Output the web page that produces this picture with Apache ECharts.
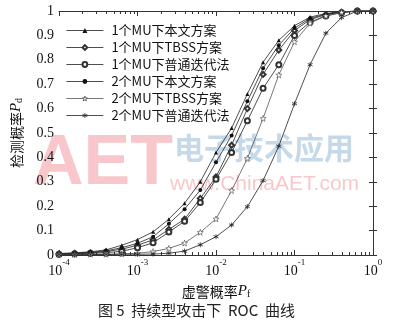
<!DOCTYPE html>
<html><head><meta charset="utf-8">
<script src="https://cdn.jsdelivr.net/npm/echarts@6/dist/echarts.min.js"></script>
<style>html,body{margin:0;padding:0;background:#fff}#c{width:393px;height:326px}</style>
</head><body><div id="c"></div>
<script>
// False-alarm probability grid (Pf)
const pf = [0.0001, 0.000158, 0.000251, 0.000398, 0.000631, 0.001, 0.00158, 0.00251, 0.00398, 0.00631,
            0.01, 0.0158, 0.0251, 0.0398, 0.0631, 0.1, 0.158, 0.251, 0.398, 0.631, 1];
// Detection probability (Pd) per series
const mu1Proposed = [0.006, 0.009, 0.013, 0.021, 0.040, 0.063, 0.095, 0.147, 0.212, 0.300, 0.420, 0.520, 0.660, 0.790, 0.880, 0.940, 0.975, 0.990, 0.997, 1, 1];
const mu1TBSS     = [0.004, 0.006, 0.009, 0.014, 0.024, 0.040, 0.062, 0.105, 0.147, 0.232, 0.320, 0.450, 0.600, 0.740, 0.840, 0.920, 0.965, 0.985, 0.995, 1, 1];
const mu1Iter     = [0.003, 0.005, 0.007, 0.010, 0.015, 0.030, 0.050, 0.094, 0.138, 0.215, 0.310, 0.420, 0.550, 0.683, 0.780, 0.900, 0.955, 0.980, 0.993, 1, 1];
const mu2Proposed = [0.005, 0.007, 0.011, 0.017, 0.030, 0.048, 0.075, 0.128, 0.188, 0.266, 0.380, 0.490, 0.630, 0.765, 0.860, 0.930, 0.970, 0.987, 0.996, 1, 1];
const mu2TBSS     = [0.002, 0.002, 0.003, 0.003, 0.005, 0.007, 0.014, 0.027, 0.049, 0.093, 0.148, 0.264, 0.396, 0.560, 0.738, 0.874, 0.950, 0.980, 0.995, 1, 1];
const mu2Iter     = [0.001, 0.001, 0.002, 0.002, 0.003, 0.003, 0.004, 0.007, 0.016, 0.042, 0.075, 0.123, 0.198, 0.305, 0.446, 0.620, 0.780, 0.909, 0.973, 1, 1];

const seriesNames = ['1个MU下本文方案', '1个MU下TBSS方案', '1个MU下普通迭代法', '2个MU下本文方案', '2个MU下TBSS方案', '2个MU下普通迭代法'];
const xTickExponents = [-4, -3, -2, -1, 0];
const minorMantissas = [2, 3, 4, 5, 6, 7, 8, 9];
const yTickStep = 0.1;

const serif = "'Liberation Serif', 'Noto Sans CJK SC', serif";
const cjk = "'Noto Sans CJK SC', 'Liberation Serif', sans-serif";

const minorVals = [];
for (let d = xTickExponents[0]; d < xTickExponents[xTickExponents.length - 1]; d++) {
  minorMantissas.forEach(m => minorVals.push(Math.log10(m) + d));
}

function pts(arr) { return pf.map((x, i) => [x, arr[i]]); }

const starPath = 'path://M0,-10L2.35,-3.24L9.51,-3.09L3.8,1.24L5.88,8.09L0,4L-5.88,8.09L-3.8,1.24L-9.51,-3.09L-2.35,-3.24Z';
const astPath = 'path://M0,-5L0,5M-4.33,-2.5L4.33,2.5M-4.33,2.5L4.33,-2.5';

const styles = [
  { symbol: 'triangle', symbolSize: 4, itemStyle: { color: '#111' }, lineColor: '#222' },
  { symbol: 'emptyDiamond', symbolSize: 5, itemStyle: { color: '#333', borderWidth: 0.6 }, lineColor: '#222' },
  { symbol: 'emptyCircle', symbolSize: 5, itemStyle: { color: '#333', borderWidth: 0.6 }, lineColor: '#222' },
  { symbol: 'circle', symbolSize: 4, itemStyle: { color: '#111' }, lineColor: '#222' },
  { symbol: starPath, symbolSize: 6, itemStyle: { color: '#fff', borderColor: '#444', borderWidth: 0.6 }, lineColor: '#555' },
  { symbol: astPath, symbolSize: 5, itemStyle: { color: '#222', borderColor: '#222', borderWidth: 0.8 }, lineColor: '#222' }
];
const datasets = [mu1Proposed, mu1TBSS, mu1Iter, mu2Proposed, mu2TBSS, mu2Iter];

const series = datasets.map((d, i) => ({
  name: seriesNames[i],
  type: 'line',
  xAxisIndex: 0, yAxisIndex: 0,
  data: pts(d),
  symbol: styles[i].symbol,
  symbolSize: styles[i].symbolSize,
  itemStyle: styles[i].itemStyle,
  lineStyle: { color: styles[i].lineColor, width: 0.8 },
  emphasis: { disabled: true },
  z: 3
}));

const labelRich = {
  b: { fontFamily: serif, fontSize: 14, color: '#111', lineHeight: 20, verticalAlign: 'bottom' },
  s: { fontFamily: serif, fontSize: 9, color: '#111', lineHeight: 11, verticalAlign: 'top' }
};

const chart = echarts.init(document.getElementById('c'), null, { renderer: 'canvas' });
chart.setOption({
  animation: false,
  backgroundColor: '#fff',
  grid: { left: 57, right: 20, top: 11, bottom: 71 },
  legend: {
    orient: 'vertical', left: 61, top: 19,
    itemWidth: 37, itemHeight: 6, itemGap: 4,
    data: seriesNames,
    itemStyle: { borderWidth: 0.8 },
    lineStyle: { width: 0.8 },
    textStyle: { fontFamily: cjk, fontSize: 13, color: '#111', padding: [0, 0, 0, 3] },
    selectedMode: false
  },
  xAxis: [
    {
      type: 'log', logBase: 10, min: 0.0001, max: 1, position: 'bottom', gridIndex: 0,
      axisLine: { show: true, lineStyle: { color: '#333', width: 1 } },
      axisTick: { show: true, inside: true, length: 5, lineStyle: { color: '#333' } },
      splitLine: { show: false },
      axisLabel: {
        margin: 3,
        formatter: v => '{b|10}{s|' + Math.round(Math.log10(v)) + '}',
        rich: labelRich
      },
      name: '虚警概率{i|P}{sub|f}', nameLocation: 'middle', nameGap: 27,
      nameTextStyle: {
        fontFamily: cjk, fontSize: 14, color: '#111',
        rich: {
          i: { fontFamily: serif, fontStyle: 'italic', fontSize: 15, color: '#111' },
          sub: { fontFamily: serif, fontSize: 10, color: '#111', verticalAlign: 'bottom', lineHeight: 12, padding: [6, 0, 0, 0] }
        }
      }
    },
    {
      type: 'value', min: xTickExponents[0], max: xTickExponents[xTickExponents.length - 1], position: 'bottom', gridIndex: 0,
      axisLine: { show: false },
      axisTick: { show: true, inside: true, length: 3, customValues: minorVals, lineStyle: { color: '#333' } },
      axisLabel: { show: false }, splitLine: { show: false }
    },
    {
      type: 'log', logBase: 10, min: 0.0001, max: 1, position: 'top', gridIndex: 0,
      axisLine: { show: true, lineStyle: { color: '#333', width: 1 } },
      axisTick: { show: true, inside: true, length: 5, lineStyle: { color: '#333' } },
      axisLabel: { show: false }, splitLine: { show: false }
    },
    {
      type: 'value', min: xTickExponents[0], max: xTickExponents[xTickExponents.length - 1], position: 'top', gridIndex: 0,
      axisLine: { show: false },
      axisTick: { show: true, inside: true, length: 3, customValues: minorVals, lineStyle: { color: '#333' } },
      axisLabel: { show: false }, splitLine: { show: false }
    }
  ],
  yAxis: [
    {
      type: 'value', min: 0, max: 1, interval: yTickStep, position: 'left', gridIndex: 0,
      axisLine: { show: true, lineStyle: { color: '#333', width: 1 } },
      axisTick: { show: true, inside: true, length: 4, lineStyle: { color: '#333' } },
      splitLine: { show: false },
      axisLabel: { margin: 5, fontFamily: serif, fontSize: 14, color: '#111' },
      name: '检测概率{i|P}{sub|d}', nameLocation: 'middle', nameGap: 35, nameRotate: 90,
      nameTextStyle: {
        fontFamily: cjk, fontSize: 14, color: '#111',
        rich: {
          i: { fontFamily: serif, fontStyle: 'italic', fontSize: 15, color: '#111' },
          sub: { fontFamily: serif, fontSize: 10, color: '#111', verticalAlign: 'bottom', lineHeight: 12, padding: [6, 0, 0, 0] }
        }
      }
    },
    {
      type: 'value', min: 0, max: 1, interval: yTickStep, position: 'right', gridIndex: 0,
      axisLine: { show: true, lineStyle: { color: '#333', width: 1 } },
      axisTick: { show: true, inside: true, length: 4, lineStyle: { color: '#333' } },
      axisLabel: { show: false }, splitLine: { show: false }
    }
  ],
  graphic: [
    { type: 'text', left: 33, top: 130, z: -1, silent: true,
      style: { text: 'AET', font: 'bold 70px "Liberation Sans", Arial, sans-serif', fill: 'rgba(240,130,140,0.45)' } },
    { type: 'text', left: 174, top: 133, z: -1, silent: true,
      style: { text: '电子技术应用', font: 'bold 30px "Noto Sans CJK SC", sans-serif', fill: 'rgba(150,185,215,0.55)' } },
    { type: 'text', left: 170, top: 174, z: -1, silent: true,
      style: { text: 'www.ChinaAET.com', font: '21px "Liberation Sans", Arial, sans-serif', fill: 'rgba(240,130,140,0.45)' } },
    { type: 'text', left: 'center', top: 303, silent: true,
      style: { text: '图 5  持续型攻击下  ROC  曲线', font: '15px "Noto Sans CJK SC", "Liberation Serif", sans-serif', fill: '#222' } }
  ],
  series: series
});
</script>
</body></html>
